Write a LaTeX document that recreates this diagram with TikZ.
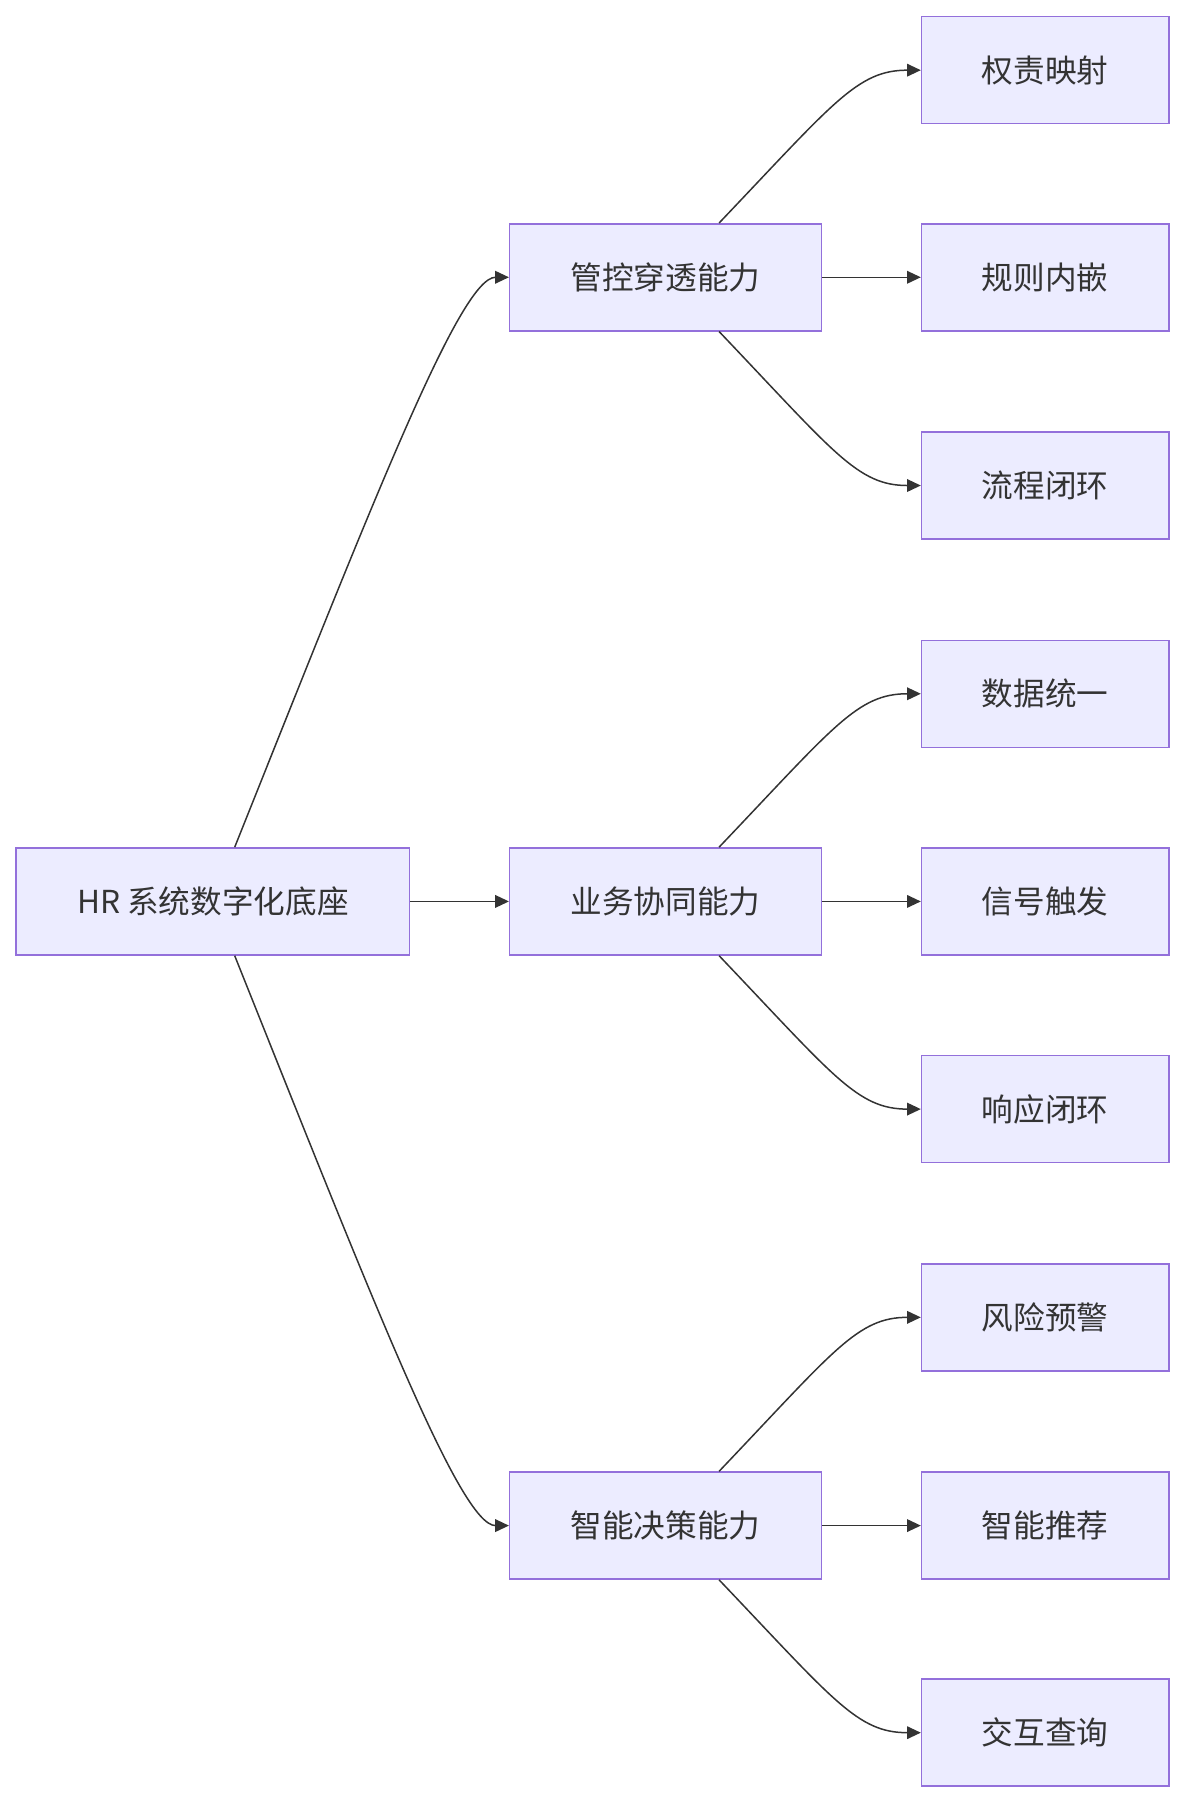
\documentclass[tikz,border=0pt]{standalone}
\usepackage{fontspec}
\setmainfont{Noto Sans CJK SC}
\usetikzlibrary{arrows.meta}
\definecolor{bfill}{HTML}{ECECFF}
\definecolor{bline}{HTML}{9370DB}
\definecolor{txt}{HTML}{333333}
\begin{document}
\begin{tikzpicture}[x=1pt,y=-1pt,
  box/.style={draw=bline,fill=bfill,line width=1.3pt,minimum height=93pt,inner sep=0pt,text=txt,font=\fontsize{27.5}{32}\selectfont},
  mid/.style={box,minimum width=271pt},
  leaf/.style={box,minimum width=215pt},
  ar/.style={draw=txt,line width=1.3pt,-{Triangle[length=12pt,width=11pt]}}]
\useasboundingbox (0,0) rectangle (1030,1568);
\node[box,minimum width=342pt] (r) at (185,783.5) {HR 系统数字化底座};
\node[mid] (m1) at (578.5,241) {管控穿透能力};
\node[mid] (m2) at (578.5,783.5) {业务协同能力};
\node[mid] (m3) at (578.5,1326) {智能决策能力};
\node[leaf] (a1) at (908.5,61) {权责映射};
\node[leaf] (a2) at (908.5,241) {规则内嵌};
\node[leaf] (a3) at (908.5,422) {流程闭环};
\node[leaf] (b1) at (908.5,603) {数据统一};
\node[leaf] (b2) at (908.5,783.5) {信号触发};
\node[leaf] (b3) at (908.5,964) {响应闭环};
\node[leaf] (c1) at (908.5,1145) {风险预警};
\node[leaf] (c2) at (908.5,1326) {智能推荐};
\node[leaf] (c3) at (908.5,1506) {交互查询};
\draw[ar] (r.north)++(19,0) .. controls +(120,-300) and (400,241) .. (m1.west);
\draw[ar] (r.east) -- (m2.west);
\draw[ar] (r.south)++(19,0) .. controls +(120,300) and (400,1326) .. (m3.west);
\foreach \m/\x/\y/\z in {m1/a1/a2/a3,m2/b1/b2/b3,m3/c1/c2/c3}{
  \draw[ar] (\m.north)++(46.5,0) .. controls +(100,-105) and ([xshift=-55pt]\x.west) .. (\x.west);
  \draw[ar] (\m.east) -- (\y.west);
  \draw[ar] (\m.south)++(46.5,0) .. controls +(100,105) and ([xshift=-55pt]\z.west) .. (\z.west);
}
\end{tikzpicture}
\end{document}
